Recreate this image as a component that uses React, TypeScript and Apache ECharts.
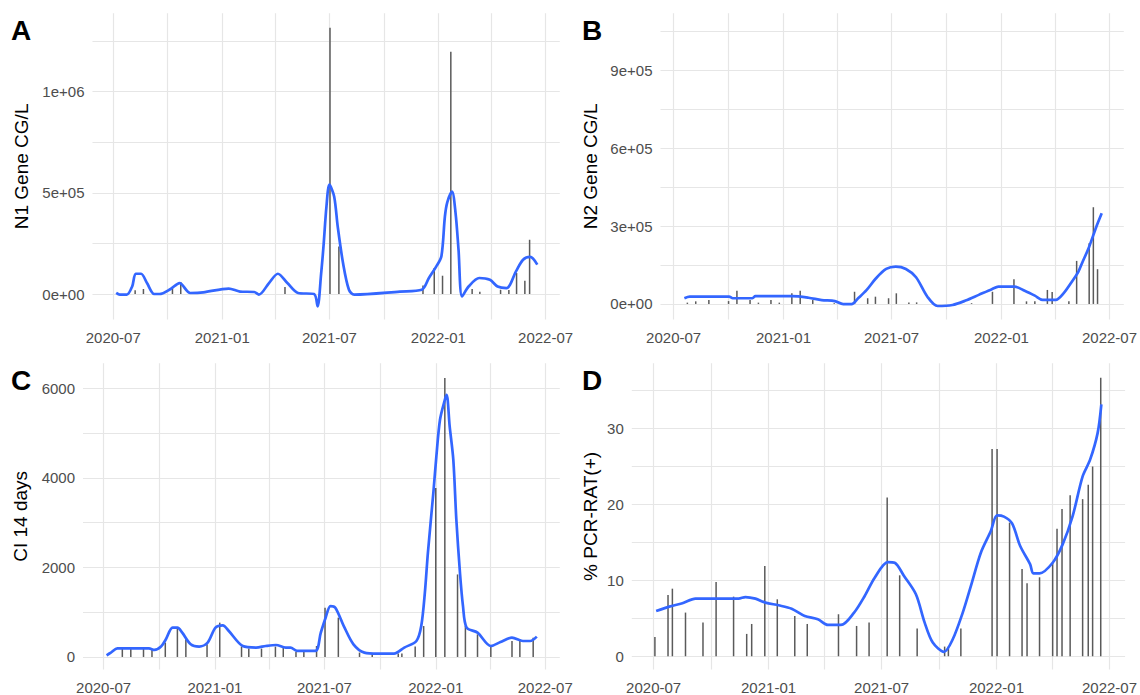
import React, { useEffect, useRef } from 'react';
import * as echarts from 'echarts';

// ---------- Panel A : N1 gene ----------
const aBarDates = ['2020-08-07','2020-08-21','2020-10-09','2020-10-23','2021-04-17','2021-07-02','2021-07-17','2021-12-06','2021-12-25','2022-01-08','2022-01-22','2022-02-27','2022-03-12','2022-04-16','2022-04-30','2022-05-13','2022-05-27','2022-06-04'];
const aBarValues = [18000,24700,28000,59000,34500,1316000,235000,42500,128000,90300,1197000,24700,11000,21000,20000,104000,66000,268000];
const aLineDates = ['2020-07-06','2020-07-12','2020-07-24','2020-08-02','2020-08-08','2020-08-17','2020-08-27','2020-09-08','2020-09-17','2020-10-06','2020-10-21','2020-11-08','2020-11-30','2021-01-12','2021-01-31','2021-02-24','2021-03-04','2021-03-21','2021-04-05','2021-04-21','2021-05-09','2021-06-05','2021-06-11','2021-06-17','2021-06-21','2021-06-26','2021-07-01','2021-07-09','2021-07-15','2021-07-24','2021-08-03','2021-08-12','2021-10-28','2021-12-04','2021-12-16','2021-12-28','2022-01-06','2022-01-12','2022-01-16','2022-01-24','2022-01-30','2022-02-04','2022-02-10','2022-02-21','2022-03-11','2022-03-29','2022-04-11','2022-04-26','2022-05-12','2022-05-24','2022-06-05','2022-06-17'];
const aLineValues = [5000,-3000,-3000,37500,100000,100000,54000,0,0,25000,54000,5000,8000,27000,12000,10000,-3000,54000,100000,54000,5000,0,-61000,100000,235000,432000,540000,482000,334000,153000,21000,-3000,12000,21000,79000,134000,185000,383000,453000,506000,400000,219000,-12000,37000,79000,70000,37000,29000,112000,169000,183000,145000];

// ---------- Panel B : N2 gene ----------
const bBarDates = ['2020-07-24','2020-08-07','2020-08-29','2020-10-01','2020-10-15','2020-11-06','2020-11-20','2020-12-11','2020-12-25','2021-01-15','2021-01-29','2021-02-19','2021-03-27','2021-04-30','2021-05-22','2021-06-04','2021-06-26','2021-07-09','2021-07-30','2021-08-12','2021-11-12','2021-12-17','2022-01-22','2022-02-12','2022-02-26','2022-03-19','2022-03-27','2022-04-24','2022-05-07','2022-05-28','2022-06-04','2022-06-11'];
const bBarValues = [5000,10000,15000,11000,51000,15000,5000,15000,5000,41000,51000,15000,3000,47000,22000,28000,22000,41000,6000,6000,3000,47000,95000,10000,10000,54000,46000,10000,166000,234000,373000,134000];
const bLineDates = ['2020-07-19','2020-07-28','2020-10-02','2020-10-08','2020-11-10','2020-11-15','2021-01-15','2021-02-12','2021-03-06','2021-03-28','2021-04-11','2021-04-25','2021-05-06','2021-05-20','2021-06-05','2021-06-22','2021-07-08','2021-07-25','2021-08-11','2021-08-30','2021-09-16','2021-10-11','2021-11-02','2021-11-24','2021-12-16','2021-12-27','2022-01-23','2022-02-09','2022-02-26','2022-03-11','2022-04-02','2022-04-15','2022-04-29','2022-05-10','2022-05-16','2022-05-28','2022-06-09','2022-06-18'];
const bLineValues = [22000,28000,28000,22000,22000,30000,30000,24000,15000,11000,-1000,-1000,22000,53000,99000,135000,144000,135000,103000,28000,-8000,-4000,13000,35000,57000,67000,67000,51000,32000,16000,16000,41000,86000,125000,157000,221000,298000,350000];

// ---------- Panel C : CI 14 days ----------
const cBarDates = ['2020-08-01','2020-08-15','2020-09-05','2020-09-19','2020-10-11','2020-10-31','2020-11-14','2020-12-19','2021-01-09','2021-02-14','2021-02-26','2021-03-19','2021-04-11','2021-04-24','2021-05-15','2021-05-28','2021-06-18','2021-07-02','2021-07-24','2021-08-28','2021-09-18','2021-10-31','2021-11-06','2021-11-28','2021-12-12','2022-01-01','2022-01-16','2022-02-06','2022-02-19','2022-03-11','2022-04-02','2022-05-07','2022-05-20','2022-06-11'];
const cBarValues = [180,180,180,180,320,656,395,283,767,232,187,187,232,210,111,111,245,1101,878,98,70,80,80,232,691,3778,6231,1844,691,506,245,357,395,432];
const cLineDates = ['2020-07-06','2020-07-13','2020-07-24','2020-09-14','2020-09-23','2020-10-04','2020-10-12','2020-10-23','2020-10-31','2020-11-08','2020-11-22','2020-12-06','2020-12-20','2021-01-02','2021-01-14','2021-01-24','2021-02-16','2021-03-10','2021-03-26','2021-04-12','2021-04-28','2021-05-06','2021-05-17','2021-06-16','2021-06-25','2021-07-03','2021-07-11','2021-07-19','2021-08-02','2021-08-18','2021-09-05','2021-09-27','2021-10-24','2021-11-10','2021-11-30','2021-12-08','2021-12-14','2021-12-19','2021-12-28','2022-01-02','2022-01-08','2022-01-16','2022-01-19','2022-01-24','2022-01-30','2022-02-04','2022-02-10','2022-02-15','2022-02-21','2022-03-11','2022-04-02','2022-04-18','2022-05-07','2022-05-25','2022-06-06','2022-06-17'];
const cLineValues = [38,98,194,194,157,232,395,656,656,544,283,232,321,656,707,580,245,210,245,268,210,210,134,134,544,878,1137,1101,691,283,98,76,76,210,357,691,1436,2328,3666,4482,5301,5747,5858,5151,4409,3071,1882,1137,656,544,245,335,432,357,357,455];

// ---------- Panel D : % PCR-RAT(+) ----------
const dBarDates = ['2020-07-03','2020-07-24','2020-07-31','2020-08-21','2020-09-18','2020-10-09','2020-11-06','2020-11-27','2020-12-05','2020-12-26','2021-01-15','2021-02-12','2021-03-04','2021-04-23','2021-05-22','2021-06-11','2021-07-10','2021-07-30','2021-08-27','2021-10-10','2021-10-16','2021-11-05','2021-12-25','2022-01-02','2022-01-22','2022-02-11','2022-02-19','2022-03-11','2022-04-01','2022-04-08','2022-04-16','2022-04-29','2022-05-19','2022-05-28','2022-06-04','2022-06-17'];
const dBarValues = [2.54,8.07,8.9,5.75,4.43,9.78,7.85,2.94,4.25,11.89,7.5,5.31,4.25,5.53,3.99,4.43,20.9,10.66,3.64,1.27,1.27,3.64,27.3,27.3,17.6,11.5,9.6,10.4,12.4,16.8,19.4,21.2,20.7,22.6,25.0,36.7];
const dLineDates = ['2020-07-05','2020-07-26','2020-08-16','2020-09-06','2020-10-13','2020-11-14','2020-11-25','2020-12-11','2020-12-27','2021-01-17','2021-02-07','2021-02-28','2021-03-21','2021-04-06','2021-04-27','2021-05-18','2021-06-04','2021-06-20','2021-07-11','2021-07-22','2021-08-06','2021-08-25','2021-09-08','2021-09-21','2021-10-09','2021-10-23','2021-11-08','2021-11-21','2021-12-07','2021-12-23','2022-01-02','2022-01-13','2022-01-26','2022-02-08','2022-02-24','2022-03-01','2022-03-11','2022-04-01','2022-04-17','2022-05-03','2022-05-19','2022-05-31','2022-06-12','2022-06-18'];
const dLineValues = [5.96,6.54,6.97,7.59,7.59,7.59,7.8,7.59,7.06,6.71,6.27,5.31,4.87,4.12,4.12,5.75,7.94,10.35,12.41,12.32,10.57,8.16,4.43,1.8,0.57,2.24,5.75,9.25,13.64,16.5,18.55,18.4,17.5,14.52,12.1,10.92,10.92,12.32,14.74,18.46,23.7,25.9,29.4,33.2];

// ---------- labels ----------
const panelTags = ['A', 'B', 'C', 'D'];
const yTitles = ['N1 Gene CG/L', 'N2 Gene CG/L', 'CI 14 days', '% PCR-RAT(+)'];
const dateRanges = [
  ['2020-05-27', '2022-07-25'],
  ['2020-06-09', '2022-07-25'],
  ['2020-05-28', '2022-07-25'],
  ['2020-05-27', '2022-07-26'],
];

const FONT = '"Liberation Sans", Arial, Helvetica, sans-serif';
const GRID_COLOR = '#E6E6E6';
const BAR_COLOR = '#5a5a5a';
const LINE_COLOR = '#3366FF';

function dayRange(start: string, end: string): string[] {
  const out: string[] = [];
  let t = Date.parse(start + 'T00:00:00Z');
  const e = Date.parse(end + 'T00:00:00Z');
  while (t <= e) {
    out.push(new Date(t).toISOString().slice(0, 10));
    t += 86400000;
  }
  return out;
}

function zip(d: string[], v: number[]) {
  return d.map((x, i) => [x, v[i]]);
}

function sciFmt(step: number) {
  return (v: number) => {
    if (Math.abs(v / step - Math.round(v / step)) > 1e-6) return '';
    if (v === 0) return '0e+00';
    const e = Math.floor(Math.log10(Math.abs(v)));
    const m = Math.round((v / Math.pow(10, e)) * 100) / 100;
    return `${m}e+${String(e).padStart(2, '0')}`;
  };
}
function plainFmt(step: number) {
  return (v: number) => {
    if (Math.abs(v / step - Math.round(v / step)) > 1e-6) return '';
    return String(Math.round(v));
  };
}

export default function App() {
  const ref = useRef<HTMLDivElement>(null);
  useEffect(() => {
    if (!ref.current) return;
    const chart = echarts.init(ref.current, undefined, { renderer: 'svg' });

    const panels = [
      { grid: { left: 92.5, top: 13.3, width: 467.3, height: 306.2 }, bars: zip(aBarDates, aBarValues), line: zip(aLineDates, aLineValues), min: -126000, max: 1387000, split: 3, fmt: sciFmt(500000), nameGap: 62 },
      { grid: { left: 660.5, top: 13.3, width: 467.5, height: 306.2 }, bars: zip(bBarDates, bBarValues), line: zip(bLineDates, bLineValues), min: -60000, max: 1121000, split: 4, fmt: sciFmt(300000), nameGap: 61 },
      { grid: { left: 83, top: 363.3, width: 476.8, height: 306.2 }, bars: zip(cBarDates, cBarValues), line: zip(cLineDates, cLineValues), min: -280, max: 6562, split: 3, fmt: plainFmt(2000), nameGap: 53 },
      { grid: { left: 631.8, top: 363.3, width: 496.2, height: 306.2 }, bars: zip(dBarDates, dBarValues), line: zip(dLineDates, dLineValues), min: -1.75, max: 38.6, split: 4, fmt: plainFmt(10), nameGap: 32 },
    ];

    const labelInterval = (_i: number, v: string) => /-(01|07)-01$/.test(v);
    const gridInterval = (_i: number, v: string) => /-(01|04|07|10)-01$/.test(v);

    const option: any = {
      animation: false,
      backgroundColor: '#ffffff',
      textStyle: { fontFamily: FONT },
      grid: panels.map((p) => ({ ...p.grid, containLabel: false })),
      xAxis: panels.map((p, i) => ({
        gridIndex: i,
        type: 'category',
        data: dayRange(dateRanges[i][0], dateRanges[i][1]),
        boundaryGap: false,
        axisLine: { show: false },
        axisTick: { show: false },
        axisLabel: {
          interval: labelInterval,
          formatter: (v: string) => v.slice(0, 7),
          color: '#4D4D4D',
          fontSize: 15,
          fontFamily: FONT,
          margin: 10,
        },
        splitLine: { show: true, interval: gridInterval, lineStyle: { color: GRID_COLOR, width: 1.2 } },
      })),
      yAxis: panels.map((p, i) => ({
        gridIndex: i,
        type: 'value',
        min: p.min,
        max: p.max,
        splitNumber: p.split,
        axisLine: { show: false },
        axisTick: { show: false },
        axisLabel: {
          showMinLabel: false,
          showMaxLabel: false,
          formatter: p.fmt,
          color: '#4D4D4D',
          fontSize: 15,
          fontFamily: FONT,
          margin: 8,
        },
        splitLine: { show: true, showMinLine: false, showMaxLine: false, lineStyle: { color: GRID_COLOR, width: 1.2 } },
        minorTick: { show: false, splitNumber: 2 },
        minorSplitLine: { show: true, lineStyle: { color: GRID_COLOR, width: 1.2 } },
        name: yTitles[i],
        nameLocation: 'middle',
        nameGap: p.nameGap,
        nameTextStyle: { color: '#000000', fontSize: 19, fontFamily: FONT },
      })),
      series: panels.flatMap((p, i) => [
        {
          type: 'bar',
          xAxisIndex: i,
          yAxisIndex: i,
          data: p.bars,
          barWidth: 1.5,
          itemStyle: { color: BAR_COLOR },
          silent: true,
          z: 2,
        },
        {
          type: 'line',
          xAxisIndex: i,
          yAxisIndex: i,
          data: p.line,
          smooth: 0.3,
          showSymbol: false,
          lineStyle: { color: LINE_COLOR, width: 2.7 },
          silent: true,
          z: 3,
        },
      ]),
      graphic: panelTags.map((t, i) => ({
        type: 'text',
        left: i % 2 === 0 ? 11 : 582,
        top: i < 2 ? 16 : 366,
        style: { text: t, fontSize: 28, fontWeight: 'bold', fill: '#000', fontFamily: FONT },
      })),
    };

    chart.setOption(option);
    return () => chart.dispose();
  }, []);

  return (
    <div
      ref={ref}
      style={{ position: 'fixed', left: 0, top: 0, width: 1140, height: 695, background: '#fff' }}
    />
  );
}
